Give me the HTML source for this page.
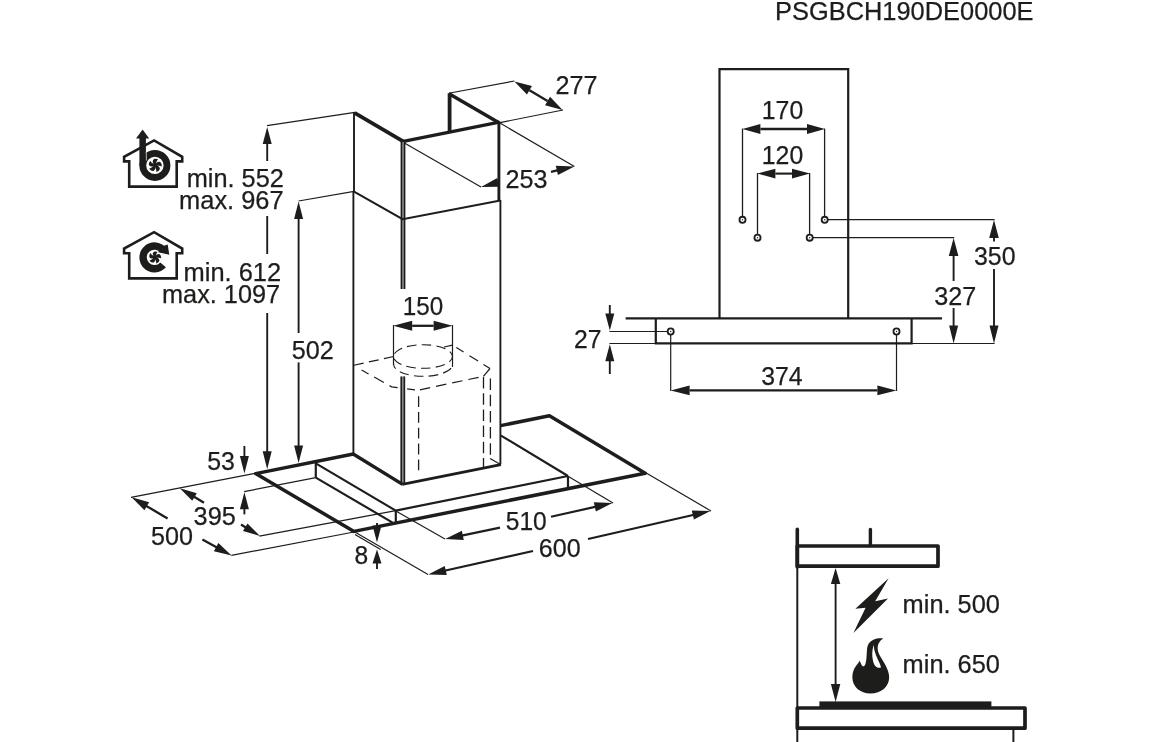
<!DOCTYPE html>
<html lang="de">
<head>
<meta charset="utf-8">
<title>PSGBCH190DE0000E</title>
<style>
html,body{margin:0;padding:0;background:#fff;}
body{width:1156px;height:742px;overflow:hidden;}
svg{display:block;will-change:transform;}
svg text{font-family:"Liberation Sans",Arial,Helvetica,sans-serif;fill:#1d1d1b;stroke:#1d1d1b;stroke-width:0.25px;}
</style>
</head>
<body>
<svg width="1156" height="742" viewBox="0 0 1156 742" stroke="#1d1d1b" fill="none">
<rect x="0" y="0" width="1156" height="742" fill="#fff" stroke="none"/>
<text x="775.1" y="19.7" font-size="25.3" text-anchor="start" textLength="258.4" lengthAdjust="spacingAndGlyphs">PSGBCH190DE0000E</text>
<polygon points="129.2,186.6 129.2,161.4 124.1,161.4 124.1,156.8 154.1,140.4 182.2,156.8 182.2,161.4 176.7,161.4 176.7,186.6" fill="none" stroke-width="2.6" stroke-linejoin="miter"/>
<circle cx="154.9" cy="165.4" r="12.1" fill="none" stroke-width="6.8"/>
<rect x="139.4" y="137" width="6.5" height="29" fill="#1d1d1b" stroke="none"/>
<polygon points="142.6,129.6 149.2,138.4 136,138.4" fill="#1d1d1b" stroke="none"/>
<path transform="translate(155.1 165.4) rotate(2) scale(1)" d="M0,0.4 C-1.7,-1.2 -3.1,-3.3 -2.3,-5.1 C-1.5,-6.7 1.1,-6.9 2.8,-6.1 C1.7,-5.3 1.3,-4 1.2,-2.8 C1.1,-1.6 0.7,-0.5 0,0.4 Z" fill="#1d1d1b" stroke="none"/>
<path transform="translate(155.1 165.4) rotate(74) scale(1)" d="M0,0.4 C-1.7,-1.2 -3.1,-3.3 -2.3,-5.1 C-1.5,-6.7 1.1,-6.9 2.8,-6.1 C1.7,-5.3 1.3,-4 1.2,-2.8 C1.1,-1.6 0.7,-0.5 0,0.4 Z" fill="#1d1d1b" stroke="none"/>
<path transform="translate(155.1 165.4) rotate(146) scale(1)" d="M0,0.4 C-1.7,-1.2 -3.1,-3.3 -2.3,-5.1 C-1.5,-6.7 1.1,-6.9 2.8,-6.1 C1.7,-5.3 1.3,-4 1.2,-2.8 C1.1,-1.6 0.7,-0.5 0,0.4 Z" fill="#1d1d1b" stroke="none"/>
<path transform="translate(155.1 165.4) rotate(218) scale(1)" d="M0,0.4 C-1.7,-1.2 -3.1,-3.3 -2.3,-5.1 C-1.5,-6.7 1.1,-6.9 2.8,-6.1 C1.7,-5.3 1.3,-4 1.2,-2.8 C1.1,-1.6 0.7,-0.5 0,0.4 Z" fill="#1d1d1b" stroke="none"/>
<path transform="translate(155.1 165.4) rotate(290) scale(1)" d="M0,0.4 C-1.7,-1.2 -3.1,-3.3 -2.3,-5.1 C-1.5,-6.7 1.1,-6.9 2.8,-6.1 C1.7,-5.3 1.3,-4 1.2,-2.8 C1.1,-1.6 0.7,-0.5 0,0.4 Z" fill="#1d1d1b" stroke="none"/>
<circle cx="155.1" cy="165.4" r="1.1" fill="#1d1d1b" stroke="none"/>
<line x1="146.25" y1="152.2" x2="146.4" y2="160.6" stroke="#fff" stroke-width="0.7"/>
<polygon points="129.2,278.4 129.2,253.2 124.1,253.2 124.1,248.6 154.1,232.2 182.2,248.6 182.2,253.2 176.7,253.2 176.7,278.4" fill="none" stroke-width="2.6" stroke-linejoin="miter"/>
<path d="M163.1,264.88 A11.4,11.4 0 1 1 163.72,250.7" fill="none" stroke-width="7.4"/>
<polygon points="167.7,244.6 169.3,254.8 158.3,252.2 160,247" fill="#1d1d1b" stroke="none"/>
<path transform="translate(155 257.4) rotate(2) scale(0.92)" d="M0,0.4 C-1.7,-1.2 -3.1,-3.3 -2.3,-5.1 C-1.5,-6.7 1.1,-6.9 2.8,-6.1 C1.7,-5.3 1.3,-4 1.2,-2.8 C1.1,-1.6 0.7,-0.5 0,0.4 Z" fill="#1d1d1b" stroke="none"/>
<path transform="translate(155 257.4) rotate(74) scale(0.92)" d="M0,0.4 C-1.7,-1.2 -3.1,-3.3 -2.3,-5.1 C-1.5,-6.7 1.1,-6.9 2.8,-6.1 C1.7,-5.3 1.3,-4 1.2,-2.8 C1.1,-1.6 0.7,-0.5 0,0.4 Z" fill="#1d1d1b" stroke="none"/>
<path transform="translate(155 257.4) rotate(146) scale(0.92)" d="M0,0.4 C-1.7,-1.2 -3.1,-3.3 -2.3,-5.1 C-1.5,-6.7 1.1,-6.9 2.8,-6.1 C1.7,-5.3 1.3,-4 1.2,-2.8 C1.1,-1.6 0.7,-0.5 0,0.4 Z" fill="#1d1d1b" stroke="none"/>
<path transform="translate(155 257.4) rotate(218) scale(0.92)" d="M0,0.4 C-1.7,-1.2 -3.1,-3.3 -2.3,-5.1 C-1.5,-6.7 1.1,-6.9 2.8,-6.1 C1.7,-5.3 1.3,-4 1.2,-2.8 C1.1,-1.6 0.7,-0.5 0,0.4 Z" fill="#1d1d1b" stroke="none"/>
<path transform="translate(155 257.4) rotate(290) scale(0.92)" d="M0,0.4 C-1.7,-1.2 -3.1,-3.3 -2.3,-5.1 C-1.5,-6.7 1.1,-6.9 2.8,-6.1 C1.7,-5.3 1.3,-4 1.2,-2.8 C1.1,-1.6 0.7,-0.5 0,0.4 Z" fill="#1d1d1b" stroke="none"/>
<circle cx="155" cy="257.4" r="1.1" fill="#1d1d1b" stroke="none"/>
<text x="283.9" y="186.9" font-size="25.3" text-anchor="end" textLength="97.2" lengthAdjust="spacingAndGlyphs">min. 552</text>
<text x="283.6" y="208.5" font-size="25.3" text-anchor="end" textLength="104.5" lengthAdjust="spacingAndGlyphs">max. 967</text>
<text x="281.2" y="280.9" font-size="25.3" text-anchor="end" textLength="97.7" lengthAdjust="spacingAndGlyphs">min. 612</text>
<text x="280.1" y="302.5" font-size="25.3" text-anchor="end" textLength="118.1" lengthAdjust="spacingAndGlyphs">max. 1097</text>
<line x1="267" y1="125.6" x2="355" y2="112.4" stroke-width="1.2"/>
<line x1="354" y1="112" x2="354" y2="191.4" stroke-width="1.9"/>
<line x1="353.4" y1="191.4" x2="353.4" y2="454" stroke-width="1.9"/>
<line x1="403.4" y1="141.4" x2="499.4" y2="122.2" stroke-width="3.4"/>
<line x1="354.6" y1="112.8" x2="403.6" y2="141.6" stroke-width="3.7"/>
<line x1="403.6" y1="141.6" x2="404.6" y2="141.4" stroke-width="3.4"/>
<line x1="449.6" y1="131.8" x2="449.6" y2="93.4" stroke-width="3.8"/>
<line x1="448.6" y1="93.6" x2="499.4" y2="123" stroke-width="3.5"/>
<line x1="498.9" y1="121.6" x2="498.9" y2="200.6" stroke-width="2.9"/>
<line x1="500.4" y1="200" x2="500.4" y2="464.6" stroke-width="1.9"/>
<line x1="450" y1="93" x2="514.4" y2="81" stroke-width="1.2"/>
<line x1="500" y1="122.6" x2="563" y2="110" stroke-width="1.2"/>
<polygon points="514.4,81.4 531.95,86.12 526.95,94.54" fill="#1d1d1b" stroke="none"/>
<polygon points="562.6,110 545.05,105.28 550.05,96.86" fill="#1d1d1b" stroke="none"/>
<line x1="529.45" y1="90.33" x2="547.55" y2="101.07" stroke-width="2.3"/>
<line x1="500" y1="123" x2="574.4" y2="166.6" stroke-width="1.2"/>
<line x1="404.4" y1="143" x2="481" y2="187" stroke-width="1.2"/>
<polygon points="481,187 497.26,178.07 499.55,186.77" fill="#1d1d1b" stroke="none"/>
<polygon points="574.4,166.4 557.94,175.12 555.78,165.77" fill="#1d1d1b" stroke="none"/>
<line x1="551" y1="171.8" x2="560.37" y2="169.64" stroke-width="2.3"/>
<text x="555.5" y="93.9" font-size="25.3" text-anchor="start" textLength="42" lengthAdjust="spacingAndGlyphs">277</text>
<text x="505.5" y="187.6" font-size="25.3" text-anchor="start" textLength="42" lengthAdjust="spacingAndGlyphs">253</text>
<line x1="403" y1="142" x2="403" y2="289" stroke="#8a8a8a" stroke-width="2.4"/>
<line x1="401.4" y1="142" x2="401.4" y2="289" stroke-width="1.6"/>
<line x1="404.6" y1="142" x2="404.6" y2="289" stroke-width="1.6"/>
<line x1="298.6" y1="201" x2="354" y2="191.4" stroke-width="1.2"/>
<polyline points="353.6,191.4 402.6,219.2 500.4,200.4" fill="none" stroke-width="2" stroke-linejoin="miter"/>
<text x="402.8" y="314.9" font-size="25.3" text-anchor="start" textLength="40.4" lengthAdjust="spacingAndGlyphs">150</text>
<polygon points="393.2,325.8 412.2,320.8 412.2,330.8" fill="#1d1d1b" stroke="none"/>
<polygon points="452.6,325.8 433.6,330.8 433.6,320.8" fill="#1d1d1b" stroke="none"/>
<line x1="412.2" y1="325.8" x2="433.6" y2="325.8" stroke-width="2.3"/>
<line x1="393.5" y1="325" x2="393.5" y2="365" stroke-width="1.2"/>
<line x1="452.5" y1="325" x2="452.5" y2="367" stroke-width="1.2"/>
<ellipse cx="423.1" cy="356.5" rx="29.4" ry="11.8" fill="none" stroke-width="1.1" stroke-dasharray="9.5 5.2" stroke-dashoffset="3"/>
<path d="M452.5,364.5 A29.4,11.8 0 0 1 393.7,364.5" fill="none" stroke-width="1.1" stroke-dasharray="9.5 5.2" stroke-dashoffset="-4"/>
<line x1="393.7" y1="356.5" x2="353.5" y2="365.3" stroke-width="1.2" stroke-dasharray="10 5.4"/>
<line x1="444" y1="347" x2="452.5" y2="345.1" stroke-width="1.2"/>
<line x1="490" y1="368.5" x2="452.5" y2="345.1" stroke-width="1.2" stroke-dasharray="7.7 6.3 10.2 6.9 8.6 20"/>
<line x1="490" y1="368.5" x2="483.4" y2="376.3" stroke-width="1.2"/>
<line x1="478.6" y1="377.3" x2="417.9" y2="390.3" stroke-width="1.2" stroke-dasharray="10.5 6"/>
<polyline points="361.6,370 391.6,386.8 418,390.3" fill="none" stroke-width="1.2" stroke-linejoin="miter" stroke-dasharray="8 6.5 11 6.5 8.5 9.5 8 20"/>
<line x1="418.6" y1="396.2" x2="418.6" y2="473" stroke-width="1.3" stroke-dasharray="10.8 5"/>
<line x1="483.5" y1="377" x2="483.5" y2="467" stroke-width="1.3" stroke-dasharray="11.5 4.7"/>
<line x1="490.4" y1="378.5" x2="490.4" y2="458.6" stroke-width="1.3" stroke-dasharray="11.5 4.7"/>
<line x1="490" y1="458.6" x2="500.6" y2="464.6" stroke-width="1.2"/>
<line x1="402.8" y1="376.4" x2="402.8" y2="484" stroke="#8a8a8a" stroke-width="2.4"/>
<line x1="401.2" y1="376.4" x2="401.2" y2="484" stroke-width="1.6"/>
<line x1="404.4" y1="376.4" x2="404.4" y2="484" stroke-width="1.6"/>
<line x1="402.2" y1="484.4" x2="500.8" y2="464.6" stroke-width="2.8"/>
<line x1="353.2" y1="454" x2="402.6" y2="484.4" stroke-width="3.4"/>
<polyline points="353.4,454 255.6,473.6 354,531.4 645.2,473.2 549.4,415.8 500.6,425.6" fill="none" stroke-width="3.5" stroke-linejoin="round"/>
<line x1="315.8" y1="463" x2="315.8" y2="477.6" stroke-width="2.2"/>
<line x1="315.8" y1="463.4" x2="395.8" y2="510.6" stroke-width="2.2"/>
<line x1="315.8" y1="477.6" x2="392.6" y2="522.6" stroke-width="2.2"/>
<line x1="395.8" y1="510.6" x2="395.8" y2="522" stroke-width="2.2"/>
<line x1="395.8" y1="510.6" x2="568" y2="476" stroke-width="2.2"/>
<line x1="568" y1="476" x2="568" y2="488.2" stroke-width="2.2"/>
<line x1="501" y1="435.6" x2="568" y2="476" stroke-width="2.2"/>
<polygon points="267.2,127 271.7,144 262.7,144" fill="#1d1d1b" stroke="none"/>
<line x1="267.2" y1="140" x2="267.2" y2="161" stroke-width="1.9"/>
<line x1="267.2" y1="216" x2="267.2" y2="254" stroke-width="1.9"/>
<polygon points="267.2,469.2 262.7,451.2 271.7,451.2" fill="#1d1d1b" stroke="none"/>
<line x1="267.2" y1="313" x2="267.2" y2="454.8" stroke-width="1.9"/>
<polygon points="298.6,201.6 303.1,219.1 294.1,219.1" fill="#1d1d1b" stroke="none"/>
<line x1="298.6" y1="215" x2="298.6" y2="333" stroke-width="1.9"/>
<polygon points="298.6,463 294.1,445.5 303.1,445.5" fill="#1d1d1b" stroke="none"/>
<line x1="298.6" y1="362.4" x2="298.6" y2="449" stroke-width="1.9"/>
<text x="291.8" y="359.3" font-size="25.3" text-anchor="start" textLength="42" lengthAdjust="spacingAndGlyphs">502</text>
<text x="207.2" y="470.2" font-size="25.3" text-anchor="start" textLength="27.7" lengthAdjust="spacingAndGlyphs">53</text>
<polygon points="244.4,473.6 239.9,456.1 248.9,456.1" fill="#1d1d1b" stroke="none"/>
<line x1="244.4" y1="446" x2="244.4" y2="459.6" stroke-width="1.9"/>
<polygon points="244.4,492.2 248.9,509.2 239.9,509.2" fill="#1d1d1b" stroke="none"/>
<line x1="244.4" y1="514.4" x2="244.4" y2="505.8" stroke-width="1.9"/>
<line x1="131" y1="497.4" x2="255" y2="473.4" stroke-width="1.2"/>
<line x1="244.2" y1="491.6" x2="315.8" y2="477.6" stroke-width="1.2"/>
<polygon points="179.8,488.2 196.8,493.32 192.25,500.85" fill="#1d1d1b" stroke="none"/>
<line x1="204" y1="502.8" x2="191.58" y2="495.31" stroke-width="2.3"/>
<polygon points="131.6,497.3 149.16,502.14 144.41,510.25" fill="#1d1d1b" stroke="none"/>
<line x1="167.6" y1="518.4" x2="143.75" y2="504.42" stroke-width="2.3"/>
<polygon points="260,536 242.99,530.92 247.51,523.38" fill="#1d1d1b" stroke="none"/>
<line x1="241" y1="524.6" x2="248.2" y2="528.92" stroke-width="2.3"/>
<polygon points="231.6,555.4 213.88,551.16 218.36,542.89" fill="#1d1d1b" stroke="none"/>
<line x1="202.4" y1="539.6" x2="219.22" y2="548.7" stroke-width="2.3"/>
<text x="193.6" y="525" font-size="25.3" text-anchor="start" textLength="42.2" lengthAdjust="spacingAndGlyphs">395</text>
<text x="151" y="544.8" font-size="25.3" text-anchor="start" textLength="42" lengthAdjust="spacingAndGlyphs">500</text>
<line x1="259.4" y1="536.2" x2="395.8" y2="510.6" stroke-width="1.2"/>
<line x1="231.4" y1="555.4" x2="354" y2="532" stroke-width="1.2"/>
<line x1="354" y1="531.6" x2="428" y2="574.4" stroke-width="1.2"/>
<line x1="355" y1="534.4" x2="380.6" y2="549.6" stroke-width="1.2"/>
<polygon points="377,542.4 372.5,525.4 381.5,525.4" fill="#1d1d1b" stroke="none"/>
<line x1="377" y1="523" x2="377" y2="528.8" stroke-width="1.9"/>
<polygon points="377,549.6 381.5,563.6 372.5,563.6" fill="#1d1d1b" stroke="none"/>
<line x1="377" y1="569" x2="377" y2="560.8" stroke-width="1.9"/>
<text x="354.4" y="563.5" font-size="25.3" text-anchor="start" textLength="13.7" lengthAdjust="spacingAndGlyphs">8</text>
<line x1="395.8" y1="511" x2="445" y2="539" stroke-width="1.2"/>
<line x1="568" y1="476.2" x2="613" y2="503" stroke-width="1.2"/>
<line x1="645.4" y1="472.6" x2="711" y2="511" stroke-width="1.2"/>
<polygon points="445.2,539 461.87,530.73 463.78,539.94" fill="#1d1d1b" stroke="none"/>
<line x1="500" y1="527.6" x2="459.3" y2="536.07" stroke-width="2.2"/>
<polygon points="612.4,503 595.87,511.53 593.81,502.36" fill="#1d1d1b" stroke="none"/>
<line x1="551" y1="516.8" x2="598.35" y2="506.16" stroke-width="2.2"/>
<polygon points="428.2,574.4 444.74,565.89 446.79,575.06" fill="#1d1d1b" stroke="none"/>
<line x1="533" y1="551" x2="442.25" y2="571.26" stroke-width="2.2"/>
<polygon points="710.4,511 693.9,519.6 691.81,510.43" fill="#1d1d1b" stroke="none"/>
<line x1="588" y1="539" x2="696.36" y2="514.21" stroke-width="2.2"/>
<text x="505.8" y="530.1" font-size="25.3" text-anchor="start" textLength="41" lengthAdjust="spacingAndGlyphs">510</text>
<text x="538.8" y="557" font-size="25.3" text-anchor="start" textLength="41.8" lengthAdjust="spacingAndGlyphs">600</text>
<polyline points="719.5,318.4 719.5,69.2 848.2,69.2 848.2,318.4" fill="none" stroke-width="2.2" stroke-linejoin="miter"/>
<line x1="625.6" y1="318.4" x2="942" y2="318.4" stroke-width="2.2"/>
<polyline points="655.8,318.4 655.8,343.3 911.6,343.3 911.6,318.4" fill="none" stroke-width="2.2" stroke-linejoin="miter"/>
<text x="761.8" y="119.3" font-size="25.3" text-anchor="start" textLength="41.4" lengthAdjust="spacingAndGlyphs">170</text>
<polygon points="742.4,129 760.4,124.1 760.4,133.9" fill="#1d1d1b" stroke="none"/>
<polygon points="825,129 807,133.9 807,124.1" fill="#1d1d1b" stroke="none"/>
<line x1="760.4" y1="129" x2="807" y2="129" stroke-width="2.3"/>
<line x1="742.5" y1="128.6" x2="742.5" y2="220" stroke-width="1.3"/>
<line x1="824.6" y1="128.6" x2="824.6" y2="220" stroke-width="1.3"/>
<text x="761.8" y="163.5" font-size="25.3" text-anchor="start" textLength="41.4" lengthAdjust="spacingAndGlyphs">120</text>
<polygon points="757.4,173.6 775.4,168.7 775.4,178.5" fill="#1d1d1b" stroke="none"/>
<polygon points="810,173.6 792,178.5 792,168.7" fill="#1d1d1b" stroke="none"/>
<line x1="775.4" y1="173.6" x2="792" y2="173.6" stroke-width="2.1"/>
<line x1="757.5" y1="173" x2="757.5" y2="237.6" stroke-width="1.3"/>
<line x1="809.6" y1="173" x2="809.6" y2="237.6" stroke-width="1.3"/>
<line x1="825" y1="219.6" x2="994.6" y2="219.6" stroke-width="1.3"/>
<line x1="810" y1="237.6" x2="954.2" y2="237.6" stroke-width="1.3"/>
<polygon points="994,220 998.8,238 989.2,238" fill="#1d1d1b" stroke="none"/>
<line x1="994" y1="234" x2="994" y2="241.6" stroke-width="1.9"/>
<polygon points="994,343.4 989.5,325.4 998.5,325.4" fill="#1d1d1b" stroke="none"/>
<line x1="994" y1="269" x2="994" y2="329" stroke-width="1.9"/>
<text x="974" y="265.3" font-size="25.3" text-anchor="start" textLength="41.6" lengthAdjust="spacingAndGlyphs">350</text>
<polygon points="953.6,238 958.4,256 948.8,256" fill="#1d1d1b" stroke="none"/>
<line x1="953.6" y1="252" x2="953.6" y2="281" stroke-width="1.9"/>
<polygon points="953.6,343.4 949.1,325.4 958.1,325.4" fill="#1d1d1b" stroke="none"/>
<line x1="953.6" y1="308" x2="953.6" y2="329" stroke-width="1.9"/>
<text x="934.2" y="305.3" font-size="25.3" text-anchor="start" textLength="42" lengthAdjust="spacingAndGlyphs">327</text>
<line x1="911.6" y1="343.5" x2="994.6" y2="343.5" stroke-width="1.2"/>
<polygon points="609.8,330.6 605.3,313.6 614.3,313.6" fill="#1d1d1b" stroke="none"/>
<line x1="609.8" y1="305" x2="609.8" y2="317" stroke-width="1.9"/>
<polygon points="609.8,344.2 614.3,361.2 605.3,361.2" fill="#1d1d1b" stroke="none"/>
<line x1="609.8" y1="374" x2="609.8" y2="357.8" stroke-width="1.9"/>
<line x1="609.4" y1="331.5" x2="670.6" y2="331.5" stroke-width="1.2"/>
<line x1="609.4" y1="343.5" x2="655.6" y2="343.5" stroke-width="1.2"/>
<text x="574" y="347.6" font-size="25.3" text-anchor="start" textLength="27.5" lengthAdjust="spacingAndGlyphs">27</text>
<line x1="670.7" y1="331.6" x2="670.7" y2="391" stroke-width="1.2"/>
<line x1="896.5" y1="331.6" x2="896.5" y2="391" stroke-width="1.2"/>
<polygon points="670.6,390.4 689.6,385.5 689.6,395.3" fill="#1d1d1b" stroke="none"/>
<polygon points="896.4,390.4 877.4,395.3 877.4,385.5" fill="#1d1d1b" stroke="none"/>
<line x1="689.6" y1="390.4" x2="877.4" y2="390.4" stroke-width="2.2"/>
<text x="761.2" y="385.3" font-size="25.3" text-anchor="start" textLength="41.5" lengthAdjust="spacingAndGlyphs">374</text>
<circle cx="742.5" cy="219.8" r="3.05" fill="#fff" stroke-width="1.8"/>
<circle cx="742.5" cy="219.8" r="0.7" fill="#1d1d1b" stroke="none"/>
<circle cx="824.7" cy="219.8" r="3.05" fill="#fff" stroke-width="1.8"/>
<circle cx="824.7" cy="219.8" r="0.7" fill="#1d1d1b" stroke="none"/>
<circle cx="757.5" cy="237.7" r="3.05" fill="#fff" stroke-width="1.8"/>
<circle cx="757.5" cy="237.7" r="0.7" fill="#1d1d1b" stroke="none"/>
<circle cx="809.7" cy="237.7" r="3.05" fill="#fff" stroke-width="1.8"/>
<circle cx="809.7" cy="237.7" r="0.7" fill="#1d1d1b" stroke="none"/>
<circle cx="670.7" cy="331.5" r="3.05" fill="#fff" stroke-width="1.8"/>
<circle cx="670.7" cy="331.5" r="0.7" fill="#1d1d1b" stroke="none"/>
<circle cx="896.5" cy="331.5" r="3.05" fill="#fff" stroke-width="1.8"/>
<circle cx="896.5" cy="331.5" r="0.7" fill="#1d1d1b" stroke="none"/>
<line x1="797.3" y1="529.4" x2="797.3" y2="567" stroke-width="3.6" stroke-linecap="round"/>
<line x1="870.4" y1="529.4" x2="870.4" y2="545" stroke-width="3.4" stroke-linecap="round"/>
<rect x="797.3" y="546" width="140.7" height="20.2" fill="none" stroke-width="3.7" stroke-linejoin="round"/>
<line x1="797.3" y1="567" x2="797.3" y2="742" stroke-width="2"/>
<polygon points="835.6,568 840.3,584 830.9,584" fill="#1d1d1b" stroke="none"/>
<line x1="835.6" y1="580" x2="835.6" y2="690" stroke-width="1.9"/>
<polygon points="835.6,702 830.9,684 840.3,684" fill="#1d1d1b" stroke="none"/>
<polygon points="888.6,578.2 855.4,608.8 865.6,607.8 853.4,633 888,598.6 875.2,601.2" fill="#1d1d1b" stroke="none"/>
<g transform="translate(845 630) scale(0.09434)"><path d="M405,90 C340,80 250,100 235,190 C228,250 232,330 212,370 C205,385 190,390 180,375 C170,360 165,345 155,325 C140,360 78,400 78,500 C78,600 160,672 270,672 C385,672 468,600 468,500 C468,420 412,345 370,272 C338,215 328,140 405,90 Z" fill="#1d1d1b" stroke="none"/><path d="M307,160 C285,200 280,300 310,365 C325,395 360,408 380,398 C385,380 350,320 330,270 C315,230 305,200 307,160 Z" fill="#fff" stroke="none"/></g>
<text x="902.6" y="613.1" font-size="25.3" text-anchor="start" textLength="97.4" lengthAdjust="spacingAndGlyphs">min. 500</text>
<text x="902.6" y="673.1" font-size="25.3" text-anchor="start" textLength="97.4" lengthAdjust="spacingAndGlyphs">min. 650</text>
<rect x="819.4" y="701.4" width="172" height="7" fill="#1d1d1b" stroke="none"/>
<rect x="797.3" y="708" width="227.7" height="20.2" fill="none" stroke-width="3.7" stroke-linejoin="round"/>
<line x1="1013.4" y1="728" x2="1013.4" y2="742" stroke-width="2"/>
</svg>
</body>
</html>
